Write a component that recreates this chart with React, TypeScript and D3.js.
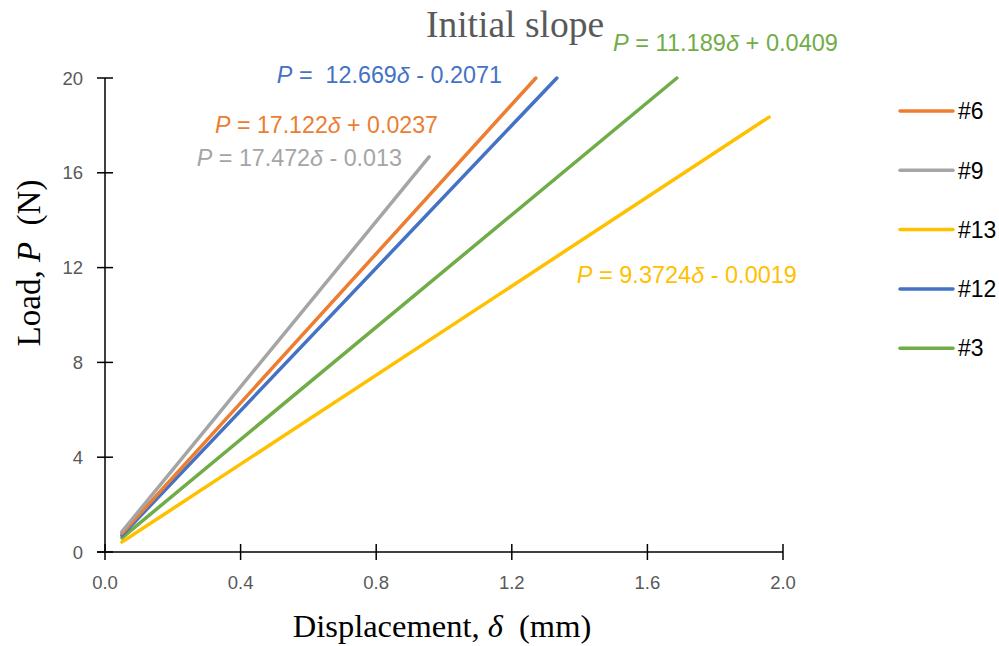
import React from "react";
import * as d3 from "d3";

const seriesNames = ["#6", "#9", "#13", "#12", "#3"];
const seriesColors = ["#ED7D31", "#A5A5A5", "#FFC000", "#4472C4", "#70AD47"];
// start/end points [delta, P] of each line
const s6 = [[0.05, 0.78], [1.271, 20]];
const s9 = [[0.05, 0.86], [0.956, 16.67]];
const s13 = [[0.05, 0.42], [1.959, 18.35]];
const s12 = [[0.05, 0.7], [1.333, 20]];
const s3 = [[0.05, 0.6], [1.687, 20]];
const seriesData = [s6, s9, s13, s12, s3];
const drawOrder = [2, 4, 3, 0, 1];

const xTicks = [0, 0.4, 0.8, 1.2, 1.6, 2.0];
const yTicks = [0, 4, 8, 12, 16, 20];

// trendline labels: series index, text pieces, anchor position (data units), text width
const equations = [
  { idx: 4, pre: " = ", coef: "11.189", rest: " + 0.0409", x: 1.4985, y: 21.14, w: 225 },
  { idx: 3, pre: " =  ", coef: "12.669", rest: " - 0.2071", x: 0.507, y: 19.79, w: 225 },
  { idx: 0, pre: " = ", coef: "17.122", rest: " + 0.0237", x: 0.3245, y: 17.68, w: 223 },
  { idx: 1, pre: " = ", coef: "17.472", rest: " - 0.013", x: 0.271, y: 16.29, w: 205 },
  { idx: 2, pre: " = ", coef: "9.3724", rest: " - 0.0019", x: 1.392, y: 11.35, w: 220 },
];

const W = 999, H = 646;
const M = { left: 105, right: 783, top: 78, bottom: 552 };

export default function App() {
  const x = d3.scaleLinear().domain([0, 2]).range([M.left, M.right]);
  const y = d3.scaleLinear().domain([0, 20]).range([M.bottom, M.top]);
  const line = d3.line<number[]>().x((d) => x(d[0])).y((d) => y(d[1]));
  const sans = '"Liberation Sans", Arial, sans-serif';
  const serif = '"Liberation Serif", "Times New Roman", serif';

  return (
    <svg width={W} height={H} style={{ position: "absolute", left: 0, top: 0, background: "#fff" }}>
      <rect width={W} height={H} fill="#fff" />
      <text x={515} y={37} textAnchor="middle" fontFamily={serif} fontSize={37.5} fill="#595959">
        Initial slope
      </text>

      {/* axes */}
      <line x1={M.left} x2={M.left} y1={M.top} y2={M.bottom} stroke="#000" strokeWidth={1.5} />
      <line x1={M.left - 8} x2={M.right} y1={M.bottom} y2={M.bottom} stroke="#000" strokeWidth={1.5} />
      {yTicks.map((t) => (
        <g key={"y" + t}>
          <line x1={M.left - 8} x2={M.left + 8} y1={y(t)} y2={y(t)} stroke="#000" strokeWidth={1.5} />
          <text x={83} y={y(t)} dy="0.36em" textAnchor="end" fontFamily={sans} fontSize={18.5} fill="#595959">
            {t}
          </text>
        </g>
      ))}
      {xTicks.map((t) => (
        <g key={"x" + t}>
          <line x1={x(t)} x2={x(t)} y1={M.bottom - 8} y2={M.bottom + 8} stroke="#000" strokeWidth={1.5} />
          <text x={x(t)} y={589} textAnchor="middle" fontFamily={sans} fontSize={18.5} fill="#595959">
            {t.toFixed(1)}
          </text>
        </g>
      ))}

      {/* axis titles */}
      <text x={442} y={637} textAnchor="middle" fontFamily={serif} fontSize={32.5} fill="#000" style={{ whiteSpace: "pre" }}>
        {"Displacement, "}<tspan fontStyle="italic">δ</tspan>{"  (mm)"}
      </text>
      <text transform={`translate(40,263) rotate(-90)`} textAnchor="middle" fontFamily={serif} fontSize={33} fill="#000" style={{ whiteSpace: "pre" }}>
        {"Load, "}<tspan fontStyle="italic">P</tspan>{"  (N)"}
      </text>

      {/* lines */}
      {drawOrder.map((i) => (
        <path key={"l" + i} d={line(seriesData[i] as number[][]) || ""} fill="none" stroke={seriesColors[i]} strokeWidth={3.5} strokeLinecap="round" />
      ))}

      {/* equations */}
      {equations.map((e) => (
        <text key={"e" + e.idx} x={x(e.x)} y={y(e.y)} fontFamily={sans} fontSize={23} fill={seriesColors[e.idx]} style={{ whiteSpace: "pre" }} textLength={e.w} lengthAdjust="spacingAndGlyphs">
          <tspan fontStyle="italic">P</tspan>
          {e.pre}
          {e.coef}
          <tspan fontStyle="italic">δ</tspan>
          {e.rest}
        </text>
      ))}

      {/* legend */}
      {seriesNames.map((n, i) => {
        const ly = 111 + i * 59.3;
        return (
          <g key={"lg" + i}>
            <line x1={900} x2={953} y1={ly} y2={ly} stroke={seriesColors[i]} strokeWidth={3.5} strokeLinecap="round" />
            <text x={958} y={ly} dy="0.36em" fontFamily={sans} fontSize={23} fill="#000">
              {n}
            </text>
          </g>
        );
      })}
    </svg>
  );
}
